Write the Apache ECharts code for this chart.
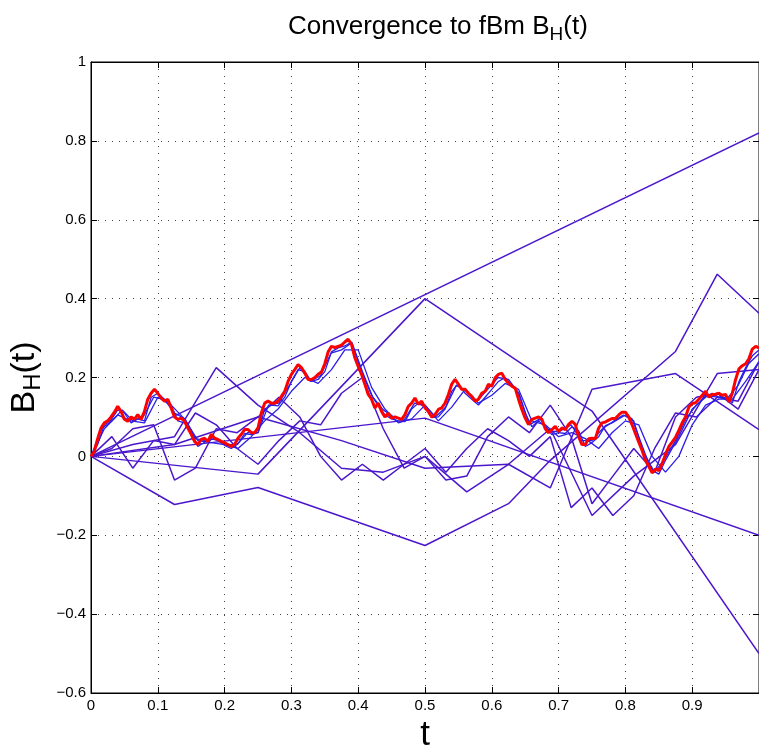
<!DOCTYPE html>
<html>
<head>
<meta charset="utf-8">
<title>Convergence to fBm</title>
<script src="https://cdn.jsdelivr.net/npm/echarts@6/dist/echarts.min.js"></script>
<style>
  html, body { margin: 0; padding: 0; background: #fff; }
  #chart { width: 759px; height: 749px; }
</style>
</head>
<body>
<div id="chart"></div>
<script>
// coarse approximations, [t, B_H(t)] vertices
const level1 = [[0, 0], [1, 0.82]]
const level2 = [[0, 0], [0.5, 0.097], [1, -0.2]]
const level4 = [[0, 0], [0.25, -0.045], [0.5, 0.40], [0.75, 0.115], [1, -0.5]]
const level8low = [[0, 0], [0.125, -0.122], [0.25, -0.079], [0.5, -0.226], [0.625, -0.12],
  [0.6875, -0.01], [0.875, 0.266], [0.9375, 0.462], [1, 0.363]]
const level8mid = [[0, 0], [0.125, 0.03], [0.25, 0.1], [0.375, 0.04], [0.5, -0.03], [0.625, -0.02],
  [0.6875, -0.08], [0.75, 0.17], [0.875, 0.21], [1, 0.068]]

// finer approximations on regular grids (values only)
const level16 = [0, 0.03, 0.05, 0.225, 0.13, 0.06, -0.03, -0.04, 0.0, -0.09, -0.02, 0.07, -0.15,
  -0.05, 0.03, 0.21, 0.22]
const level32a = [0, 0.05, -0.03, 0.04, 0.03, 0.11, 0.08, 0.02, -0.02, 0.04, 0.09, 0.08, 0.16, 0.2,
  0.07, -0.03, 0.0, -0.06, -0.05, 0.05, 0.1, 0.06, 0.13, 0.05, -0.12, -0.05, 0.02, -0.04, 0.1, 0.15,
  0.16, 0.12, 0.22]
const level32b = [0, 0.02, 0.07, 0.08, -0.06, -0.03, 0.07, 0.06, 0.1, 0.15, 0.1, 0.0, -0.06, -0.02,
  -0.06, -0.02, 0.02, -0.04, 0.02, 0.07, 0.04, 0.0, 0.05, -0.13, -0.08, -0.15, -0.1, 0.02, 0.11, 0.1,
  0.15, 0.14, 0.24]
const level50 = [0, 0.07, 0.105, 0.09, 0.085, 0.15, 0.13, 0.095, 0.04, 0.035, 0.03, 0.02, 0.05, 0.09,
  0.12, 0.165, 0.2, 0.185, 0.22, 0.27, 0.27, 0.175, 0.12, 0.085, 0.095, 0.13, 0.09, 0.125, 0.17, 0.135,
  0.155, 0.185, 0.17, 0.09, 0.08, 0.05, 0.06, 0.045, 0.02, 0.06, 0.09, 0.08, 0.0, -0.04, 0.0, 0.08,
  0.13, 0.145, 0.145, 0.19, 0.24]
const level64 = [0, 0.07, 0.09, 0.118, 0.09, 0.1, 0.15, 0.145, 0.11, 0.095, 0.045, 0.04, 0.045, 0.03,
  0.03, 0.06, 0.06, 0.13, 0.135, 0.18, 0.225, 0.19, 0.205, 0.262, 0.27, 0.288, 0.215, 0.15, 0.118, 0.1,
  0.092, 0.135, 0.13, 0.1, 0.125, 0.18, 0.165, 0.14, 0.17, 0.2, 0.195, 0.16, 0.08, 0.095, 0.062, 0.065,
  0.08, 0.04, 0.04, 0.07, 0.088, 0.105, 0.09, 0.005, -0.04, -0.005, 0.04, 0.095, 0.13, 0.155, 0.15,
  0.148, 0.18, 0.235, 0.26]
const level100 = [0, 0.03, 0.08, 0.092, 0.118, 0.11, 0.085, 0.095, 0.09, 0.15, 0.16, 0.145, 0.13,
  0.09, 0.085, 0.065, 0.025, 0.036, 0.045, 0.04, 0.028, 0.02, 0.032, 0.058, 0.055, 0.06, 0.12, 0.13,
  0.128, 0.15, 0.19, 0.22, 0.215, 0.19, 0.195, 0.215, 0.265, 0.275, 0.28, 0.29, 0.24, 0.195, 0.155,
  0.128, 0.105, 0.095, 0.09, 0.088, 0.12, 0.135, 0.125, 0.098, 0.1, 0.12, 0.165, 0.185, 0.16, 0.145,
  0.13, 0.15, 0.17, 0.19, 0.2, 0.18, 0.16, 0.11, 0.075, 0.09, 0.075, 0.055, 0.06, 0.058, 0.075, 0.065,
  0.025, 0.035, 0.05, 0.078, 0.085, 0.095, 0.105, 0.095, 0.05, 0.005, -0.035, -0.045, -0.01, 0.02,
  0.05, 0.085, 0.12, 0.135, 0.15, 0.16, 0.15, 0.155, 0.135, 0.19, 0.225, 0.255, 0.27]

// finest approximation (red), 200 steps
const level200 = [0, 0.013, 0.045, 0.072, 0.085, 0.09, 0.1, 0.112, 0.127, 0.114, 0.094, 0.089, 0.1,
  0.094, 0.106, 0.094, 0.114, 0.145, 0.16, 0.17, 0.16, 0.148, 0.14, 0.145, 0.123, 0.1, 0.094, 0.097,
  0.089, 0.072, 0.056, 0.038, 0.03, 0.043, 0.046, 0.038, 0.056, 0.046, 0.043, 0.038, 0.034, 0.03,
  0.025, 0.03, 0.046, 0.056, 0.068, 0.068, 0.06, 0.06, 0.072, 0.11, 0.135, 0.14, 0.135, 0.135, 0.14,
  0.152, 0.165, 0.19, 0.208, 0.22, 0.233, 0.225, 0.212, 0.195, 0.195, 0.2, 0.208, 0.214, 0.235, 0.265,
  0.279, 0.276, 0.279, 0.282, 0.29, 0.297, 0.284, 0.25, 0.228, 0.208, 0.183, 0.157, 0.145, 0.123,
  0.135, 0.114, 0.1, 0.11, 0.097, 0.1, 0.097, 0.094, 0.106, 0.127, 0.135, 0.148, 0.132, 0.14, 0.123,
  0.114, 0.1, 0.106, 0.119, 0.123, 0.135, 0.157, 0.183, 0.195, 0.183, 0.17, 0.17, 0.16, 0.152, 0.14,
  0.145, 0.16, 0.165, 0.183, 0.178, 0.199, 0.208, 0.211, 0.195, 0.186, 0.178, 0.173, 0.145, 0.119,
  0.097, 0.081, 0.094, 0.097, 0.1, 0.094, 0.07, 0.06, 0.068, 0.076, 0.063, 0.072, 0.068, 0.081, 0.089,
  0.081, 0.05, 0.03, 0.03, 0.045, 0.046, 0.045, 0.072, 0.085, 0.087, 0.092, 0.096, 0.096, 0.105, 0.112,
  0.112, 0.1, 0.08, 0.058, 0.036, 0.015, -0.01, -0.025, -0.042, -0.032, -0.036, -0.018, 0.005, 0.025,
  0.036, 0.048, 0.066, 0.085, 0.1, 0.125, 0.134, 0.136, 0.145, 0.155, 0.165, 0.15, 0.157, 0.157, 0.16,
  0.155, 0.157, 0.138, 0.16, 0.195, 0.222, 0.23, 0.235, 0.248, 0.272, 0.279, 0.275]

const xTicks = ['0', '0.1', '0.2', '0.3', '0.4', '0.5', '0.6', '0.7', '0.8', '0.9', '']
const yTicks = ['\u22120.6', '\u22120.4', '\u22120.2', '0', '0.2', '0.4', '0.6', '0.8', '1']

const FONT = "'Liberation Sans', Arial, sans-serif"
const COARSE = '#4b16cc'
const FINE = '#2a1ee8'

// regular-grid series -> [t, v] pairs
function onGrid(values) {
  const n = values.length - 1
  return values.map((v, i) => [i / n, v])
}

function lineSeries(data, color, width, z) {
  return {
    type: 'line',
    data: data,
    showSymbol: false,
    symbol: 'none',
    silent: true,
    z: z || 2,
    lineStyle: { color: color, width: width || 1.5 },
    emphasis: { disabled: true }
  }
}

const chart = echarts.init(document.getElementById('chart'), null, { renderer: 'canvas' })

function subRich(size) {
  return {
    n: { fontFamily: FONT, fontSize: size, fontWeight: 'normal', color: '#000', lineHeight: size + 4, verticalAlign: 'top' },
    s: {
      fontFamily: FONT, fontSize: Math.round(size * 0.72), fontWeight: 'normal', color: '#000',
      lineHeight: Math.round(size * 0.72), padding: [Math.round(size * 0.68), 0, 0, 0], verticalAlign: 'bottom'
    }
  }
}

const option = {
  animation: false,
  backgroundColor: '#fff',
  title: {
    text: '{n|Convergence to fBm B}{s|H}{n|(t)}',
    left: 283,
    top: 9,
    textStyle: { fontWeight: 'normal', rich: subRich(26) }
  },
  grid: {
    left: 91, right: 0, top: 62, bottom: 56,
    containLabel: false, outerBoundsMode: 'none',
    show: true, borderColor: '#000', borderWidth: 1
  },
  xAxis: [{
    type: 'value', min: 0, max: 1, interval: 0.1,
    name: 't', nameLocation: 'middle', nameGap: 23,
    nameTextStyle: { fontFamily: FONT, fontSize: 35, color: '#000' },
    axisLine: { show: true, onZero: false, lineStyle: { color: '#000', width: 1 } },
    axisTick: { show: true, inside: true, length: 6, lineStyle: { color: '#000' } },
    axisLabel: {
      fontFamily: FONT, fontSize: 15, color: '#000', margin: 5,
      formatter: (v) => xTicks[Math.round(v * 10)]
    },
    splitLine: { show: true, lineStyle: { color: '#444', type: [1, 6], width: 1 } }
  }, {
    type: 'value', min: 0, max: 1, interval: 0.1, position: 'top',
    axisLine: { show: true, onZero: false, lineStyle: { color: '#000' } },
    axisTick: { show: true, inside: true, length: 6, lineStyle: { color: '#000' } },
    axisLabel: { show: false }, splitLine: { show: false }
  }],
  yAxis: [{
    type: 'value', min: -0.6, max: 1, interval: 0.2,
    name: '{n|B}{s|H}{n|(t)}', nameLocation: 'middle', nameGap: 35, nameRotate: 90,
    nameTextStyle: { rich: subRich(34) },
    axisLine: { show: true, onZero: false, lineStyle: { color: '#000', width: 1 } },
    axisTick: { show: true, inside: true, length: 6, lineStyle: { color: '#000' } },
    axisLabel: {
      fontFamily: FONT, fontSize: 15, color: '#000', margin: 5,
      formatter: (v) => yTicks[Math.round((v + 0.6) * 5)]
    },
    splitLine: { show: true, lineStyle: { color: '#444', type: [1, 6], width: 1 } }
  }, {
    type: 'value', min: -0.6, max: 1, interval: 0.2, position: 'right',
    axisLine: { show: true, onZero: false, lineStyle: { color: '#000' } },
    axisTick: { show: true, inside: true, length: 6, lineStyle: { color: '#000' } },
    axisLabel: { show: false }, splitLine: { show: false }
  }],
  series: [
    lineSeries(level1, COARSE),
    lineSeries(level2, COARSE),
    lineSeries(level4, COARSE),
    lineSeries(level8low, COARSE),
    lineSeries(level8mid, COARSE),
    lineSeries(onGrid(level16), COARSE),
    lineSeries(onGrid(level32a), COARSE),
    lineSeries(onGrid(level32b), COARSE),
    lineSeries(onGrid(level50), FINE, 1.3),
    lineSeries(onGrid(level64), FINE, 1.3, 3),
    lineSeries(onGrid(level100), FINE, 1.3, 3),
    lineSeries(onGrid(level200), '#ff0000', 3, 5)
  ]
}

chart.setOption(option)
window.addEventListener('resize', () => chart.resize())
</script>
</body>
</html>
